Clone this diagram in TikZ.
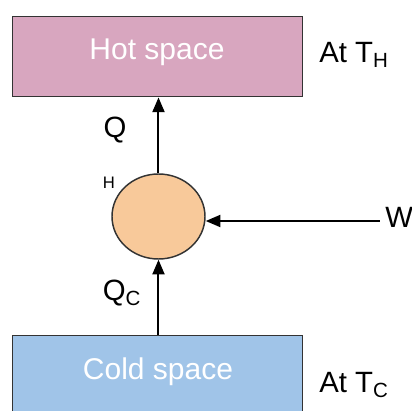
\documentclass[tikz,border=0pt]{standalone}
\usepackage{fontspec}
\setmainfont{Liberation Sans}
\usetikzlibrary{arrows.meta,shapes.geometric}
\begin{document}
\begin{tikzpicture}[x=0.75pt,y=-0.75pt,
  box/.style={draw=black!80,line width=1.1pt,minimum width=290*0.75pt,inner sep=0pt},
  boxtext/.style={text=white,font=\fontsize{22.5}{26}\selectfont},
  lbl/.style={font=\fontsize{22}{26}\selectfont,inner sep=0pt},
  flow/.style={line width=1.5pt,-{Triangle[width=9pt,length=11pt]}}]
\useasboundingbox (0,0) rectangle (412,411);
\clip (0,0) rectangle (412,411);
\node[box,fill={rgb,255:red,216;green,166;blue,191},minimum height=80*0.75pt,anchor=north west] (hot) at (12,16) {};
\node[boxtext] (hottxt) at (157,52) {Hot space};
\node[box,fill={rgb,255:red,160;green,196;blue,232},minimum height=90*0.75pt,anchor=north west] (cold) at (12,335) {};
\node[boxtext] (coldtxt) at (158,372) {Cold space};
\node[ellipse,draw=black!80,line width=1.1pt,fill={rgb,255:red,248;green,201;blue,154},minimum width=93*0.75pt,minimum height=85*0.75pt,inner sep=0pt] (engine) at (158.5,216.5) {};
\node[lbl,anchor=west] (th) at (319,55) {At T\textsubscript{H}};
\node[lbl,anchor=west] (tc) at (319,385) {At T\textsubscript{C}};
\node[lbl] (q) at (115,130) {Q};
\node[font=\fontsize{12.5}{14}\selectfont,inner sep=0pt] (qh) at (109,183) {H};
\node[lbl] (qc) at (122,293) {Q\textsubscript{C}};
\node[lbl,anchor=west] (w) at (385,217) {W};
\coordinate (wend) at (380,221);
\draw[flow] (engine.north) -- (engine.north |- hot.south);
\draw[flow] (engine.south |- cold.north) -- (engine.south);
\draw[flow] (wend) -- (wend -| engine.east);
\end{tikzpicture}
\end{document}
